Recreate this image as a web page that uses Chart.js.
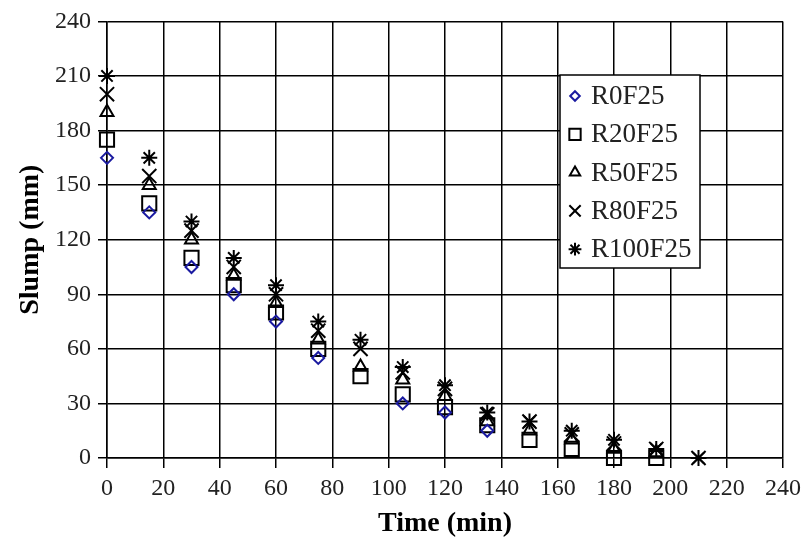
<!DOCTYPE html>
<html>
<head>
<meta charset="utf-8">
<script src="https://cdn.jsdelivr.net/npm/chart.js@4"></script>
<style>
  html, body { margin: 0; padding: 0; background: #fff; }
  #wrap { width: 807px; height: 538px; }
</style>
</head>
<body>
<div id="wrap"><canvas id="slump-chart"></canvas></div>
<script>
// time (min) for each measurement
const times = [0, 15, 30, 45, 60, 75, 90, 105, 120, 135, 150, 165, 180, 195, 210];

// slump readings (mm), null where no point is shown
const r0f25   = [165, 135, 105, 90, 75, 55, null, 30, 25, 15, null, null, null, null, null];
const r20f25  = [175, 140, 110, 95, 80, 60, 45, 35, 28, 18, 10, 5, 0, 0, null];
const r50f25  = [190, 150, 120, 100, 85, 65, 50, 43, 34, 20, 15, 10, 5, 3, null];
const r80f25  = [200, 155, 125, 105, 90, 70, 60, 47, 38, 24, 20, 13, 8, 5, 0];
const r100f25 = [210, 165, 130, 110, 95, 75, 65, 50, 40, 25, 20, 15, 10, 5, 0];

const seriesNames = ['R0F25', 'R20F25', 'R50F25', 'R80F25', 'R100F25'];
const seriesData = [r0f25, r20f25, r50f25, r80f25, r100f25];
const markers = ['rectRot', 'rect', 'triangle', 'crossRot', 'star'];
const markerColors = ['#1a1aa0', '#000', '#000', '#000', '#000'];
const markerSizes = [6, 10, 7.5, 10, 8];

const xTicks = [0, 20, 40, 60, 80, 100, 120, 140, 160, 180, 200, 220, 240];
const yTicks = [0, 30, 60, 90, 120, 150, 180, 210, 240];

const serif = '"Liberation Serif", "Times New Roman", serif';

const datasets = seriesNames.map((name, i) => ({
    label: name,
    data: times.map((t, j) => ({ x: t, y: seriesData[i][j] })).filter(p => p.y !== null),
    pointStyle: markers[i],
    pointRadius: markerSizes[i],
    pointBorderColor: markerColors[i],
    pointBackgroundColor: 'rgba(255,255,255,0)',
    pointBorderWidth: 2,
    showLine: false,
    clip: false
}));

// legend box drawn inside the plot, top right
const boxLegend = {
    id: 'boxLegend',
    afterDraw(chart) {
        const ctx = chart.ctx;
        const x = 560, y = 75, w = 140, h = 193;
        ctx.save();
        ctx.fillStyle = '#fff';
        ctx.fillRect(x, y, w, h);
        ctx.strokeStyle = '#000';
        ctx.lineWidth = 1.5;
        ctx.strokeRect(x, y, w, h);
        chart.data.datasets.forEach((ds, i) => {
            const cy = y + 21 + i * 38.3;
            ctx.fillStyle = 'rgba(0,0,0,0)';
            ctx.strokeStyle = ds.pointBorderColor;
            ctx.lineWidth = 2;
            Chart.helpers.drawPoint(ctx, {
                pointStyle: ds.pointStyle,
                radius: ds.pointRadius * 0.8,
                borderWidth: 2
            }, x + 15, cy);
            ctx.font = '27px ' + serif;
            ctx.textBaseline = 'middle';
            ctx.fillStyle = '#222';
            ctx.fillText(ds.label, x + 31, cy + 1);
        });
        ctx.restore();
    }
};

new Chart(document.getElementById('slump-chart').getContext('2d'), {
    type: 'scatter',
    data: { datasets: datasets },
    options: {
        responsive: true,
        maintainAspectRatio: false,
        animation: false,
        layout: { padding: { left: 0, right: 5, top: 11, bottom: 0 } },
        plugins: {
            legend: { display: false },
            tooltip: { enabled: false }
        },
        scales: {
            x: {
                type: 'linear',
                min: 0, max: 240,
                afterBuildTicks: axis => { axis.ticks = xTicks.map(v => ({ value: v })); },
                afterFit: axis => { axis.height = 80; },
                grid: { color: '#000', lineWidth: 1.5, tickLength: 10 },
                border: { color: '#000', width: 1.5 },
                ticks: { color: '#222', font: { family: serif, size: 24 }, padding: 6, maxRotation: 0 },
                title: { display: true, text: 'Time (min)', color: '#000', font: { family: serif, size: 28, weight: 'bold' }, padding: { top: 0, bottom: -3 } }
            },
            y: {
                min: 0, max: 240,
                afterBuildTicks: axis => { axis.ticks = yTicks.map(v => ({ value: v })); },
                afterFit: axis => { axis.width = 107; },
                grid: { color: '#000', lineWidth: 1.5, tickLength: 9 },
                border: { color: '#000', width: 1.5 },
                ticks: { color: '#222', font: { family: serif, size: 24 }, padding: 7 },
                title: { display: true, text: 'Slump (mm)', color: '#000', font: { family: serif, size: 28, weight: 'bold' }, padding: { top: 14, bottom: 0 } }
            }
        }
    },
    plugins: [boxLegend]
});
</script>
</body>
</html>
